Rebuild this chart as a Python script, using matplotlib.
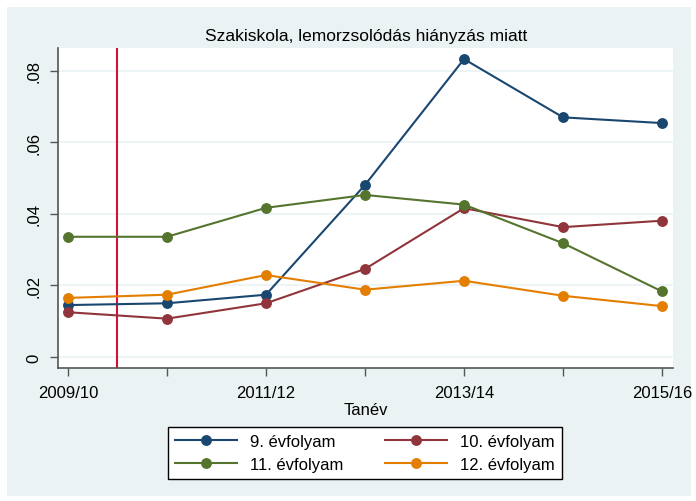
import matplotlib
matplotlib.use("Agg")
import matplotlib.pyplot as plt
from matplotlib.patches import Rectangle

plt.rcParams['font.family'] = ['Liberation Sans', 'DejaVu Sans']

# Adatok (leolvasva az ábráról)
tanev = ["2009/10", "2010/11", "2011/12", "2012/13", "2013/14", "2014/15", "2015/16"]
evf9 = [0.0145, 0.0150, 0.0174, 0.0481, 0.0833, 0.0670, 0.0654]
evf10 = [0.0125, 0.0107, 0.0150, 0.0246, 0.0416, 0.0363, 0.0381]
evf11 = [0.0336, 0.0336, 0.0417, 0.0453, 0.0426, 0.0318, 0.0183]
evf12 = [0.0165, 0.0174, 0.0229, 0.0188, 0.0213, 0.0171, 0.0142]
cimkek = ["9. évfolyam", "10. évfolyam", "11. évfolyam", "12. évfolyam"]
szinek = ["#1a476f", "#90353b", "#55752f", "#e37e00"]
vonal_x = 0.5
yticks = [0, 0.02, 0.04, 0.06, 0.08]
ytick_labels = ["0", ".02", ".04", ".06", ".08"]
xtick_pos = [0, 2, 4, 6]

W, H = 696, 502
hatter = "#eaf2f3"

fig = plt.figure(figsize=(W / 100, H / 100), dpi=100, facecolor="white")
# halványkék háttér, vékony fehér kerettel
fig.patches.append(Rectangle((7 / W, 5 / H), (691 - 7) / W, (494 - 5) / H,
                             transform=fig.transFigure, facecolor=hatter,
                             edgecolor="none", zorder=-5))

ax = fig.add_axes([58 / W, 1 - 369 / H, (673 - 58) / W, (369 - 49) / H])
ax.set_facecolor("white")

x = list(range(len(tanev)))
sorok = [evf9, evf10, evf11, evf12]
for adat, nev, szin in zip(sorok, cimkek, szinek):
    ax.plot(x, adat, color=szin, lw=1.5, marker="o", ms=6.8, label=nev, zorder=3)

ax.axvline(vonal_x, color="#d2103c", lw=1.5, zorder=2)

ax.set_xlim(-0.1, 6.11)
ax.set_ylim(-0.0031, 0.0864)
ax.set_yticks(yticks)
ax.set_yticklabels(ytick_labels, rotation=90, va="center")
ax.set_xticks(range(len(tanev)))
ax.set_xticklabels([t if i in xtick_pos else "" for i, t in enumerate(tanev)])
ax.tick_params(axis="both", labelsize=12, length=6, width=1, color="#555555")
ax.tick_params(axis="y", pad=6)
ax.tick_params(axis="x", pad=6)
ax.grid(axis="y", color=hatter, lw=1.2, zorder=1)
ax.set_axisbelow(True)

for s in ["top", "right"]:
    ax.spines[s].set_visible(False)
for s in ["left", "bottom"]:
    ax.spines[s].set_color("#555555")
    ax.spines[s].set_linewidth(1.2)

ax.set_xlabel("Tanév", fontsize=12, labelpad=2)
fig.text(366 / W, 1 - 37 / H, "Szakiskola, lemorzsolódás hiányzás miatt",
         ha="center", va="center", fontsize=12.5)

# jelmagyarázat: első sor 9, 10; második sor 11, 12 (oszlopfolytonos kitöltés)
h, l = ax.get_legend_handles_labels()
sorrend = [0, 2, 1, 3]
leg = fig.legend([h[i] for i in sorrend], [l[i] for i in sorrend], ncol=2,
                 loc="center", bbox_to_anchor=(365 / W, 1 - 454 / H),
                 fontsize=12, frameon=True, fancybox=False, framealpha=1,
                 handlelength=3.7, columnspacing=2.5, borderpad=0.45,
                 labelspacing=0.45)
leg.get_frame().set_edgecolor("black")
leg.get_frame().set_linewidth(1)

fig.savefig("out.png", dpi=100, facecolor=fig.get_facecolor())
